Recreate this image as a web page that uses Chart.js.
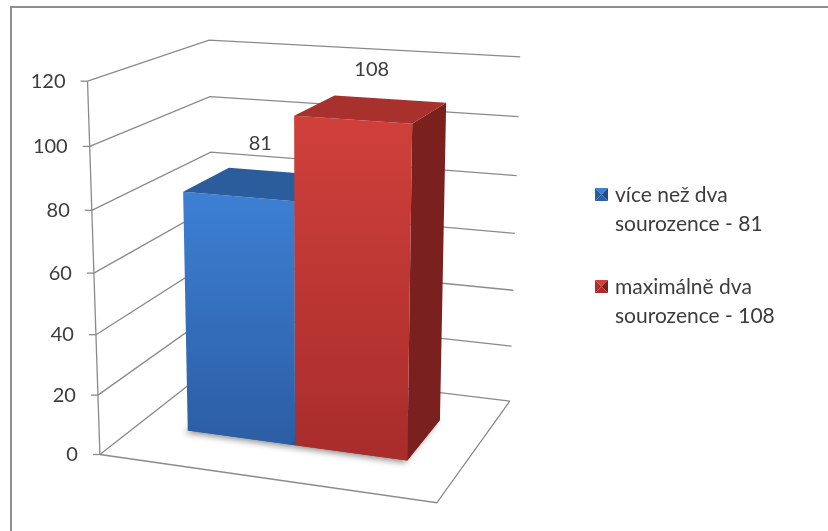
<!DOCTYPE html>
<html>
<head>
<meta charset="utf-8">
<script src="https://cdn.jsdelivr.net/npm/chart.js@4.4.1/dist/chart.umd.min.js"></script>
<style>
  html, body { margin: 0; padding: 0; background: #fff; }
  #wrap { position: relative; width: 828px; height: 531px; overflow: hidden; }
  #frame { position: absolute; left: 10px; top: 6px; width: 840px; height: 540px;
           border-left: 2px solid #8e8e8e; border-top: 2px solid #8e8e8e; }
  canvas { position: absolute; left: 0; top: 0; }
</style>
</head>
<body>
<div id="wrap">
  <div id="frame"></div>
  <canvas id="chart" width="828" height="531"></canvas>
</div>
<script>
const categories = [""];
const seriesNames = ["více než dva sourozence", "maximálně dva sourozence"];
const seriesValues = [81, 108];
const yTicks = [0, 20, 40, 60, 80, 100, 120];

const FONT = "Lato, 'Open Sans', sans-serif";
const TEXT = "#3c3c3c";
const GRID = "#8a8a8a";
const palette = [
  { light: "#3d80d4", dark: "#2c5fa6", top: "#2b5c9c", side: "#234c85" },
  { light: "#d0403b", dark: "#a92d2b", top: "#a8302d", side: "#7a2120" },
];

// screen position of the plot box: [across, height, depth, x, y]
const boxCorners = [
  [0, 0, 0, 100, 454], [0, 1, 0, 88, 81], [0, 1 / 6, 0, 98, 395], [0, 2 / 3, 0, 91, 211],
  [0, 1, 1, 210, 39], [0, 5 / 6, 1, 210, 97], [0, 2 / 3, 1, 210, 153],
  [1, 1, 1, 520, 57], [1, 5 / 6, 1, 518, 117], [1, 2 / 3, 1, 517, 175],
  [1, 0, 1, 510, 401], [1, 0, 0, 437, 503],
];
const barDepth = [0.31, 0.72];

const NX = 400, NY = 270, NS = 200;

function solve(A) {
  const n = A.length;
  for (let c = 0; c < n; c++) {
    let p = c;
    for (let r = c + 1; r < n; r++) if (Math.abs(A[r][c]) > Math.abs(A[p][c])) p = r;
    [A[c], A[p]] = [A[p], A[c]];
    for (let r = 0; r < n; r++) {
      if (r === c) continue;
      const f = A[r][c] / A[c][c];
      for (let k = c; k <= n; k++) A[r][k] -= f * A[c][k];
    }
  }
  return A.map((row, i) => row[n] / row[i]);
}

// least-squares 3x4 camera matrix from the box corners
function fitCamera(pts) {
  const n = 11;
  const M = Array.from({ length: n }, () => new Array(n + 1).fill(0));
  const add = (row, rhs) => {
    for (let i = 0; i < n; i++) {
      for (let j = 0; j < n; j++) M[i][j] += row[i] * row[j];
      M[i][n] += row[i] * rhs;
    }
  };
  for (const [X, Y, Z, px, py] of pts) {
    const x = (px - NX) / NS, y = (py - NY) / NS;
    add([X, Y, Z, 1, 0, 0, 0, 0, -x * X, -x * Y, -x * Z], x);
    add([0, 0, 0, 0, X, Y, Z, 1, -y * X, -y * Y, -y * Z], y);
  }
  return solve(M);
}

const cam = fitCamera(boxCorners);

function project(X, Y, Z) {
  const w = cam[8] * X + cam[9] * Y + cam[10] * Z + 1;
  return {
    x: NX + NS * (cam[0] * X + cam[1] * Y + cam[2] * Z + cam[3]) / w,
    y: NY + NS * (cam[4] * X + cam[5] * Y + cam[6] * Z + cam[7]) / w,
  };
}

function path(ctx, pts) {
  ctx.beginPath();
  pts.forEach((p, i) => (i ? ctx.lineTo(p.x, p.y) : ctx.moveTo(p.x, p.y)));
  ctx.closePath();
}

function drawBox(ctx, u0, u1, h, col) {
  const [z0, z1] = barDepth;
  const q = project;
  // soft shadow on the floor
  ctx.save();
  ctx.shadowColor = "rgba(0,0,0,0.45)";
  ctx.shadowBlur = 6;
  ctx.shadowOffsetX = -3;
  ctx.shadowOffsetY = 2;
  path(ctx, [q(u0, 0, z0), q(u1, 0, z0), q(u1, 0, z1), q(u0, 0, z1)]);
  ctx.fillStyle = col.dark;
  ctx.fill();
  ctx.restore();

  const front = [q(u0, 0, z0), q(u1, 0, z0), q(u1, h, z0), q(u0, h, z0)];
  const side = [q(u1, 0, z0), q(u1, 0, z1), q(u1, h, z1), q(u1, h, z0)];
  const top = [q(u0, h, z0), q(u1, h, z0), q(u1, h, z1), q(u0, h, z1)];

  path(ctx, side);
  ctx.fillStyle = col.side;
  ctx.fill();

  path(ctx, front);
  const gf = ctx.createLinearGradient(0, front[3].y, 0, front[0].y);
  gf.addColorStop(0, col.light);
  gf.addColorStop(1, col.dark);
  ctx.fillStyle = gf;
  ctx.fill();

  path(ctx, top);
  ctx.fillStyle = col.top;
  ctx.fill();
}

function drawLegendKey(ctx, x, y, s, col) {
  const c = { x: x + s / 2, y: y + s / 2 };
  const tri = (a, b, fill) => {
    ctx.beginPath();
    ctx.moveTo(a.x, a.y); ctx.lineTo(b.x, b.y); ctx.lineTo(c.x, c.y); ctx.closePath();
    ctx.fillStyle = fill; ctx.fill();
  };
  const tl = { x, y }, tr = { x: x + s, y }, br = { x: x + s, y: y + s }, bl = { x, y: y + s };
  tri(tl, tr, col.light);
  tri(tr, br, col.side);
  tri(br, bl, col.dark);
  tri(bl, tl, col.top);
}

function wrapText(ctx, text, maxW) {
  const lines = [];
  let cur = "";
  for (const word of text.split(" ")) {
    const next = cur ? cur + " " + word : word;
    if (cur && ctx.measureText(next).width > maxW) { lines.push(cur); cur = word; }
    else cur = next;
  }
  lines.push(cur);
  return lines;
}

const scene3d = {
  id: "scene3d",
  afterDatasetsDraw(chart) {
    const { ctx, chartArea: area } = chart;
    const yScale = chart.scales.y;
    const level = (v) => (yScale.bottom - yScale.getPixelForValue(v)) / (yScale.bottom - yScale.top);

    ctx.save();
    // walls: gridlines run along the left wall and across the back wall
    ctx.strokeStyle = GRID;
    ctx.lineWidth = 1.3;
    for (const v of yScale.ticks.map((t) => t.value)) {
      const h = level(v);
      const a = project(0, h, 0), b = project(0, h, 1), c = project(1, h, 1);
      ctx.beginPath();
      ctx.moveTo(a.x, a.y); ctx.lineTo(b.x, b.y); ctx.lineTo(c.x, c.y);
      ctx.stroke();
    }
    // floor outline
    const f0 = project(0, 0, 0), f1 = project(1, 0, 0), f2 = project(1, 0, 1);
    ctx.beginPath();
    ctx.moveTo(f0.x, f0.y); ctx.lineTo(f1.x, f1.y); ctx.lineTo(f2.x, f2.y);
    ctx.stroke();
    // value axis with tick marks and labels
    const a0 = project(0, 0, 0), a1 = project(0, 1, 0);
    ctx.beginPath();
    ctx.moveTo(a0.x, a0.y); ctx.lineTo(a1.x, a1.y);
    ctx.stroke();
    ctx.font = `20px ${FONT}`;
    ctx.fillStyle = TEXT;
    ctx.textAlign = "right";
    ctx.textBaseline = "middle";
    for (const t of yScale.ticks) {
      const p = project(0, level(t.value), 0);
      ctx.beginPath();
      ctx.moveTo(p.x - 7, p.y); ctx.lineTo(p.x, p.y);
      ctx.stroke();
      ctx.fillText(t.label, p.x - 22, p.y);
    }

    // bars, left to right so the right bar hides the left one's side
    chart.data.datasets.forEach((ds, i) => {
      const el = chart.getDatasetMeta(i).data[0];
      const { x, width, y } = el.getProps(["x", "width", "y"], true);
      const u0 = (x - width / 2 - area.left) / area.width;
      const u1 = (x + width / 2 - area.left) / area.width;
      const h = (yScale.bottom - y) / (yScale.bottom - yScale.top);
      drawBox(ctx, u0, u1, h, palette[i]);
      const [z0, z1] = barDepth;
      const tc = project((u0 + u1) / 2, h, (z0 + z1) / 2);
      ctx.textAlign = "center";
      ctx.fillStyle = TEXT;
      ctx.fillText(String(ds.data[0]), tc.x, tc.y - 40);
    });

    // legend
    ctx.font = `21px ${FONT}`;
    let ly = 195;
    chart.data.datasets.forEach((ds, i) => {
      drawLegendKey(ctx, 595, ly - 7, 13, palette[i]);
      ctx.textAlign = "left";
      ctx.fillStyle = TEXT;
      const lines = wrapText(ctx, `${ds.label} - ${ds.data[0]}`, 185);
      lines.forEach((line, k) => ctx.fillText(line, 615, ly + k * 29));
      ly += 92;
    });
    ctx.restore();
  },
};

new Chart(document.getElementById("chart"), {
  type: "bar",
  data: {
    labels: categories,
    datasets: seriesNames.map((name, i) => ({
      label: name,
      data: [seriesValues[i]],
      backgroundColor: "rgba(0,0,0,0)",
      borderWidth: 0,
    })),
  },
  options: {
    responsive: false,
    animation: false,
    events: [],
    layout: { padding: 0 },
    datasets: { bar: { categoryPercentage: 0.68, barPercentage: 1 } },
    plugins: { legend: { display: false }, tooltip: { enabled: false } },
    scales: {
      x: { display: false },
      y: { display: false, min: 0, max: 120, ticks: { stepSize: 20 } },
    },
  },
  plugins: [scene3d],
});
</script>
</body>
</html>
